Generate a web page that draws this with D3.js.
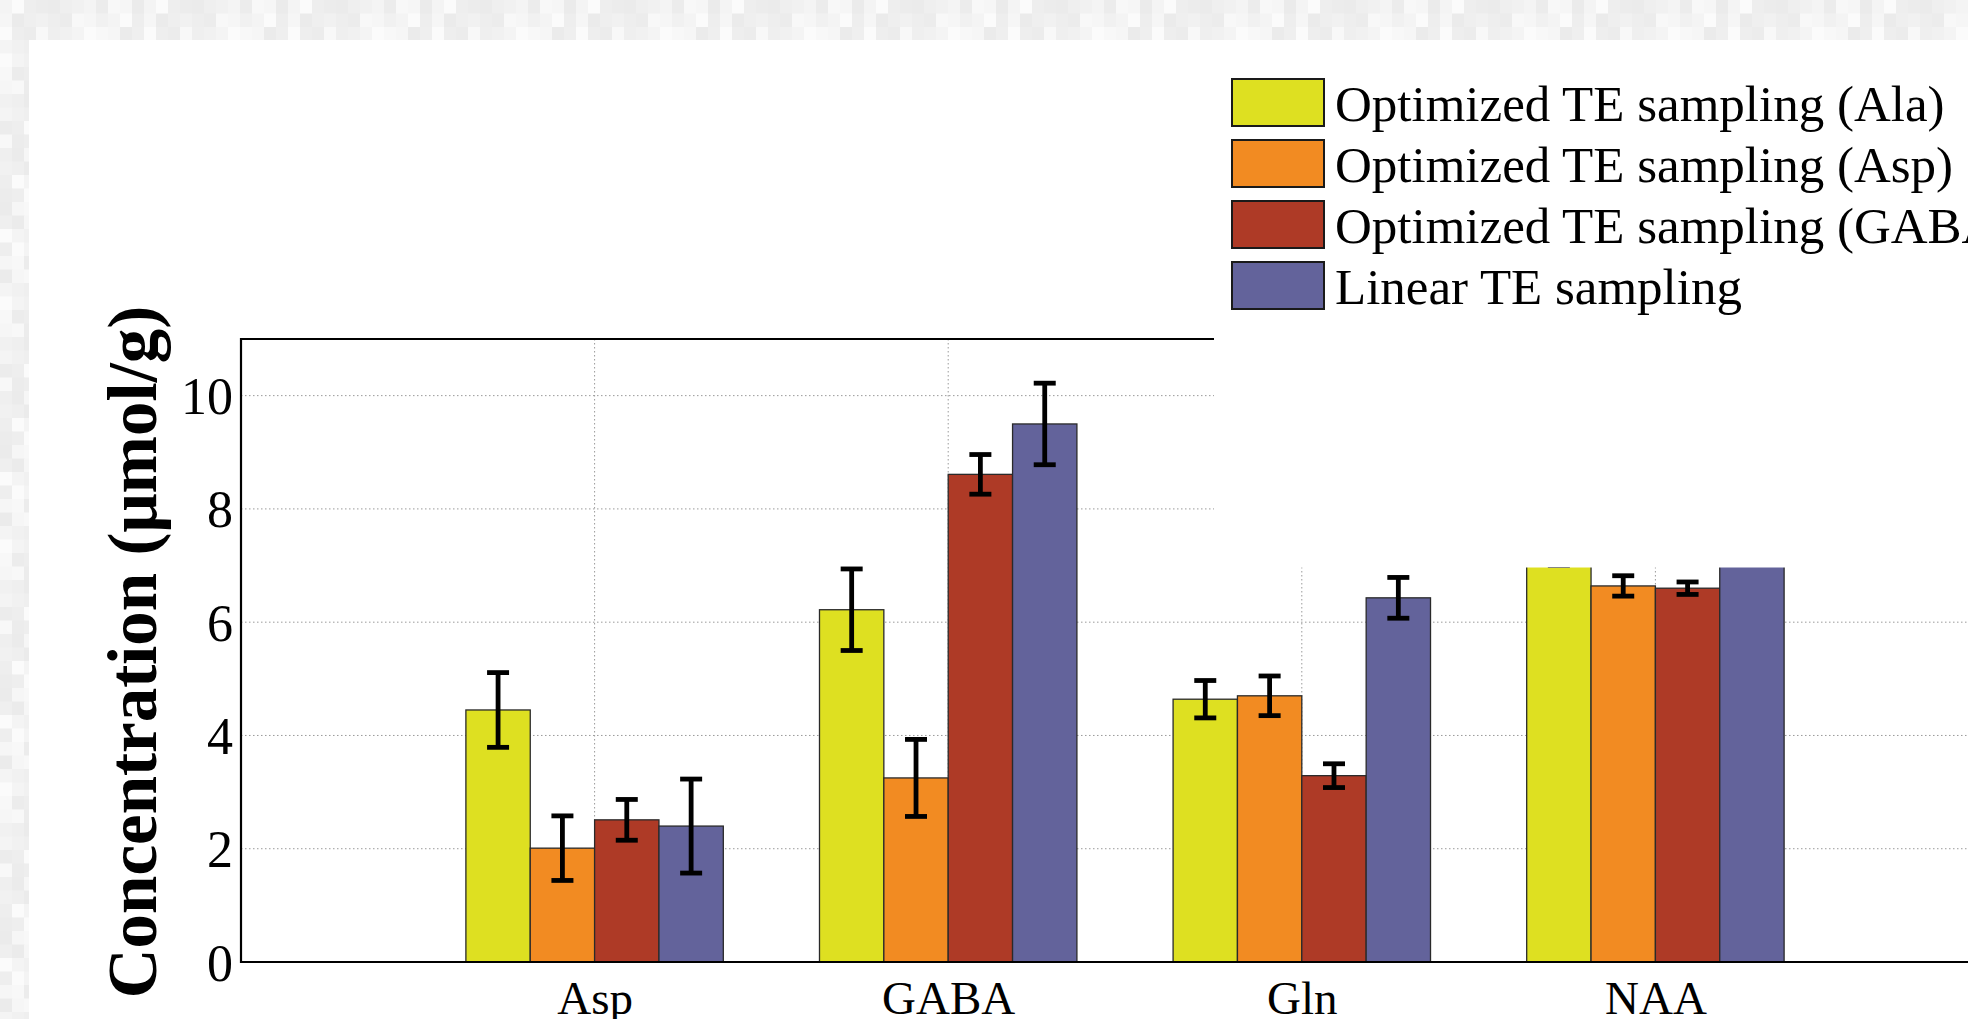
<!DOCTYPE html>
<html>
<head>
<meta charset="utf-8">
<script src="https://cdn.jsdelivr.net/npm/d3@7/dist/d3.min.js"></script>
<style>
  html, body { margin: 0; padding: 0; background: #ffffff; overflow: hidden; }
  svg { display: block; }
  text { font-family: "Liberation Serif", "Times New Roman", serif; fill: #000; }
</style>
</head>
<body>
<svg id="chart" width="1968" height="1019"></svg>
<script>
// ---------- data ----------
const categories = ["Asp", "GABA", "Gln", "NAA"];
const seriesNames = [
  "Optimized TE sampling (Ala)",
  "Optimized TE sampling (Asp)",
  "Optimized TE sampling (GABA)",
  "Linear TE sampling"
];
const valuesAla    = [4.45, 6.22, 4.64, 7.30];
const valuesAsp    = [2.01, 3.25, 4.70, 6.64];
const valuesGaba   = [2.51, 8.61, 3.29, 6.60];
const valuesLinear = [2.40, 9.50, 6.43, 7.50];
const errAla    = [0.66, 0.72, 0.33, 0.30];
const errAsp    = [0.57, 0.68, 0.35, 0.18];
const errGaba   = [0.36, 0.35, 0.21, 0.11];
const errLinear = [0.83, 0.72, 0.36, 0.30];
const yTicks = [0, 2, 4, 6, 8, 10];
const colors = ["#dee021", "#f28b22", "#ae3a26", "#63639b"];
const yLabel = "Concentration (μmol/g)";

const seriesValues = [valuesAla, valuesAsp, valuesGaba, valuesLinear];
const seriesErrors = [errAla, errAsp, errGaba, errLinear];

// ---------- layout ----------
const W = 1968, H = 1019;
const svg = d3.select("#chart");

// mottled background strips (decoration)
const shades = ["#f4f4f4", "#eeeeee", "#f8f8f8", "#ebebeb", "#f1f1f1", "#fbfbfb", "#ececec", "#f6f6f6", "#efefef"];
const bg = svg.append("g");
const bw = 12, bh = 13.5;
for (let i = 0; i * bw < W; i++) {
  for (let j = 0; j * bh < 40; j++) {
    bg.append("rect").attr("x", i * bw).attr("y", j * bh).attr("width", bw + 0.5).attr("height", bh + 0.5)
      .attr("fill", shades[(i * 5 + j * 7 + (i >> 2)) % shades.length]);
  }
}
for (let j = 0; j * bh < H; j++) {
  for (let i = 0; i * bw < 29; i++) {
    bg.append("rect").attr("x", i * bw).attr("y", 40 + j * bh).attr("width", bw + 0.5).attr("height", bh + 0.5)
      .attr("fill", shades[(i * 4 + j * 5 + (j >> 1)) % shades.length]);
  }
}
svg.append("rect").attr("x", 29).attr("y", 40).attr("width", W - 29).attr("height", H - 40).attr("fill", "#ffffff");

// scales
const axLeft = 241, axTop = 339, axBottom = 962;
const x = d3.scaleLinear().domain([0, 5]).range([axLeft, axLeft + 5 * 353.6]);
const y = d3.scaleLinear().domain([0, 11]).range([axBottom, axTop]);
const groupWidth = 0.728;
const inner = d3.scaleBand().domain(d3.range(seriesNames.length))
  .range([-groupWidth / 2, groupWidth / 2]).paddingInner(0).paddingOuter(0);

const plot = svg.append("g");

// grid
const gridColor = "#9a9a9a";
plot.append("g").selectAll("line.hg").data(yTicks.filter(d => d > 0)).join("line")
  .attr("x1", axLeft).attr("x2", W).attr("y1", d => y(d)).attr("y2", d => y(d))
  .attr("stroke", gridColor).attr("stroke-width", 1).attr("stroke-dasharray", "1.5,2.5");
plot.append("g").selectAll("line.vg").data(categories).join("line")
  .attr("x1", (d, i) => x(i + 1)).attr("x2", (d, i) => x(i + 1))
  .attr("y1", axTop).attr("y2", axBottom)
  .attr("stroke", gridColor).attr("stroke-width", 1).attr("stroke-dasharray", "1.5,2.5");

// bars
const barData = [];
seriesValues.forEach((vals, s) => vals.forEach((v, c) => barData.push({ s, c, v, e: seriesErrors[s][c] })));
const bx = d => x(d.c + 1 + inner(d.s));
const bwPx = x(inner.bandwidth()) - x(0);

plot.append("g").selectAll("rect").data(barData).join("rect")
  .attr("x", bx).attr("width", bwPx)
  .attr("y", d => y(d.v)).attr("height", d => y(0) - y(d.v))
  .attr("fill", d => colors[d.s]).attr("stroke", "#2a2a2a").attr("stroke-width", 1.3);

// error bars
const eg = plot.append("g").attr("stroke", "#000").attr("stroke-width", 4.8);
const cx = d => bx(d) + bwPx / 2;
const capW = 11;
eg.selectAll("line.v").data(barData).join("line")
  .attr("x1", cx).attr("x2", cx).attr("y1", d => y(d.v + d.e)).attr("y2", d => y(d.v - d.e));
eg.selectAll("line.t").data(barData).join("line")
  .attr("x1", d => cx(d) - capW).attr("x2", d => cx(d) + capW).attr("y1", d => y(d.v + d.e)).attr("y2", d => y(d.v + d.e));
eg.selectAll("line.b").data(barData).join("line")
  .attr("x1", d => cx(d) - capW).attr("x2", d => cx(d) + capW).attr("y1", d => y(d.v - d.e)).attr("y2", d => y(d.v - d.e));

// axes box
const axG = plot.append("g").attr("stroke", "#000").attr("stroke-width", 2.2).attr("fill", "none");
axG.append("line").attr("x1", axLeft).attr("x2", W + 10).attr("y1", axTop).attr("y2", axTop);
axG.append("line").attr("x1", axLeft).attr("x2", W + 10).attr("y1", axBottom).attr("y2", axBottom);
axG.append("line").attr("x1", axLeft).attr("x2", axLeft).attr("y1", axTop - 1).attr("y2", axBottom + 1);

// y axis tick labels
const yAxis = d3.axisLeft(y).tickValues(yTicks).tickSize(0).tickPadding(8).tickFormat(d3.format("d"));
const yAxG = svg.append("g").attr("transform", `translate(${axLeft},0)`).call(yAxis);
yAxG.select(".domain").remove();
yAxG.selectAll("text").attr("font-family", "Liberation Serif").attr("font-size", 52).attr("fill", "#000")
  .attr("dy", null).attr("dominant-baseline", null).attr("y", 18);

// x axis tick labels (bottom of glyphs fall off the page edge, as in the reference)
const xAxis = d3.axisBottom(x).tickValues([1, 2, 3, 4]).tickSize(0).tickPadding(0)
  .tickFormat(d => categories[d - 1]);
const xAxG = svg.append("g").attr("transform", `translate(0,${axBottom})`).call(xAxis);
xAxG.select(".domain").remove();
xAxG.selectAll("text").attr("font-family", "Liberation Serif").attr("font-size", 47).attr("fill", "#000")
  .attr("dy", null).attr("y", 52);

// y label
svg.append("text")
  .attr("transform", "translate(156,652) rotate(-90)")
  .attr("text-anchor", "middle")
  .attr("font-weight", "bold").attr("font-size", 69)
  .text(yLabel);

// white legend panel covering upper right
svg.append("rect").attr("x", 1214).attr("y", 40).attr("width", W - 1214).attr("height", 567.5 - 40).attr("fill", "#ffffff");

// legend
const lg = svg.append("g");
const legTop = 79, legPitch = 61;
seriesNames.forEach((name, i) => {
  lg.append("rect").attr("x", 1232).attr("y", legTop + i * legPitch).attr("width", 92).attr("height", 47)
    .attr("fill", colors[i]).attr("stroke", "#1a1a1a").attr("stroke-width", 2);
  lg.append("text").attr("x", 1335).attr("y", legTop + i * legPitch + 42)
    .attr("font-size", 51).text(name);
});
</script>
</body>
</html>
